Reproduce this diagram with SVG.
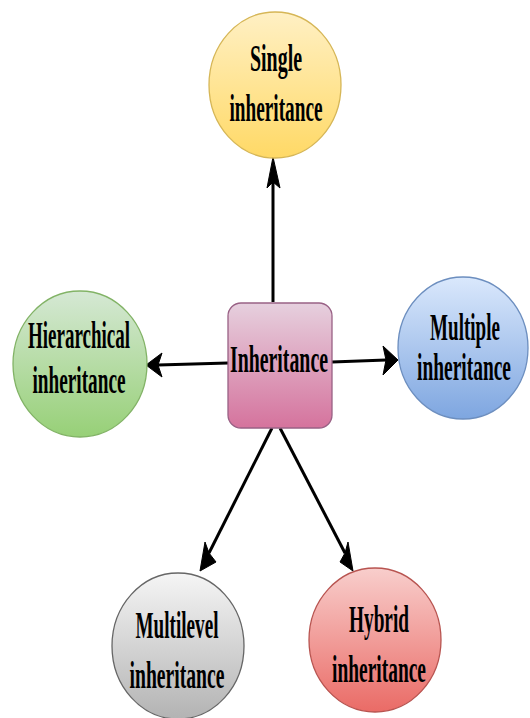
<svg xmlns="http://www.w3.org/2000/svg" width="530" height="718" viewBox="0 0 530 718">
  <style>
    .lbl { font-family: "Liberation Serif", "Times New Roman", serif; font-weight: bold; font-size: 37px; fill: #000; text-anchor: middle; }
    .node { stroke-width: 1.3; }
    .edge { stroke: #000; stroke-width: 3; fill: none; }
    .head { fill: #000; stroke: #000; stroke-width: 1; stroke-linejoin: miter; }
  </style>
  <defs>
    <linearGradient id="gYellow" x1="0" y1="0" x2="0" y2="1">
      <stop offset="0" stop-color="#fff0c4"/>
      <stop offset="1" stop-color="#ffd966"/>
    </linearGradient>
    <linearGradient id="gPink" x1="0" y1="0" x2="0" y2="1">
      <stop offset="0" stop-color="#e6d0de"/>
      <stop offset="1" stop-color="#d5739d"/>
    </linearGradient>
    <linearGradient id="gGreen" x1="0" y1="0" x2="0" y2="1">
      <stop offset="0" stop-color="#d5e8d4"/>
      <stop offset="1" stop-color="#97d077"/>
    </linearGradient>
    <linearGradient id="gBlue" x1="0" y1="0" x2="0" y2="1">
      <stop offset="0" stop-color="#dae8fc"/>
      <stop offset="1" stop-color="#7ea6e0"/>
    </linearGradient>
    <linearGradient id="gGray" x1="0" y1="0" x2="0" y2="1">
      <stop offset="0" stop-color="#f5f5f5"/>
      <stop offset="1" stop-color="#b3b3b3"/>
    </linearGradient>
    <linearGradient id="gRed" x1="0" y1="0" x2="0" y2="1">
      <stop offset="0" stop-color="#f8cecc"/>
      <stop offset="1" stop-color="#ea6b66"/>
    </linearGradient>
  </defs>

  <rect width="530" height="718" fill="#ffffff"/>

  <!-- connectors from the central box to each kind -->
  <g id="connectors">
    <line class="edge" x1="273" y1="302" x2="273" y2="182"/>
    <polygon class="head" points="273,157 267,188 273,182 280,188"/>

    <line class="edge" x1="228" y1="363" x2="158" y2="365"/>
    <polygon class="head" points="146,365 162,353 158,365 162,377"/>

    <line class="edge" x1="332" y1="362" x2="386" y2="360"/>
    <polygon class="head" points="398,360 383,346 386,360 383,375"/>

    <line class="edge" x1="272" y1="428" x2="209" y2="553"/>
    <polygon class="head" points="200,571 205,542 209,553 216,562"/>

    <line class="edge" x1="280" y1="428" x2="345" y2="553"/>
    <polygon class="head" points="353,571 340,562 345,553 348,542"/>
  </g>

  <g id="single">
    <ellipse class="node" cx="275" cy="85" rx="66" ry="73" fill="url(#gYellow)" stroke="#d6b656"/>
    <text class="lbl" x="276" y="71" textLength="52" lengthAdjust="spacingAndGlyphs">Single</text>
    <text class="lbl" x="276" y="121" textLength="93" lengthAdjust="spacingAndGlyphs">inheritance</text>
  </g>

  <g id="inheritance">
    <rect class="node" x="228" y="303" width="104" height="125" rx="13" ry="13" fill="url(#gPink)" stroke="#996185"/>
    <text class="lbl" x="279" y="372" textLength="98" lengthAdjust="spacingAndGlyphs">Inheritance</text>
  </g>

  <g id="hierarchical">
    <ellipse class="node" cx="80" cy="364" rx="67" ry="73" fill="url(#gGreen)" stroke="#82b366"/>
    <text class="lbl" x="79" y="348" textLength="102" lengthAdjust="spacingAndGlyphs">Hierarchical</text>
    <text class="lbl" x="79" y="393" textLength="93" lengthAdjust="spacingAndGlyphs">inheritance</text>
  </g>

  <g id="multiple">
    <ellipse class="node" cx="463" cy="348" rx="65" ry="71" fill="url(#gBlue)" stroke="#6c8ebf"/>
    <!-- narrow labels: squeezed with a scale so the box stays inside the circle -->
    <text class="lbl" transform="translate(465,340) scale(0.525,1)" textLength="133" lengthAdjust="spacingAndGlyphs">Multiple</text>
    <text class="lbl" transform="translate(464,380) scale(0.525,1)" textLength="179" lengthAdjust="spacingAndGlyphs">inheritance</text>
  </g>

  <g id="multilevel">
    <ellipse class="node" cx="178" cy="646" rx="66" ry="73" fill="url(#gGray)" stroke="#666666"/>
    <text class="lbl" x="177" y="638" textLength="83" lengthAdjust="spacingAndGlyphs">Multilevel</text>
    <text class="lbl" x="177" y="688" textLength="95" lengthAdjust="spacingAndGlyphs">inheritance</text>
  </g>

  <g id="hybrid">
    <ellipse class="node" cx="375" cy="640" rx="66" ry="72" fill="url(#gRed)" stroke="#b85450"/>
    <text class="lbl" x="379" y="632" textLength="60" lengthAdjust="spacingAndGlyphs">Hybrid</text>
    <text class="lbl" x="379" y="682" textLength="94" lengthAdjust="spacingAndGlyphs">inheritance</text>
  </g>
</svg>
